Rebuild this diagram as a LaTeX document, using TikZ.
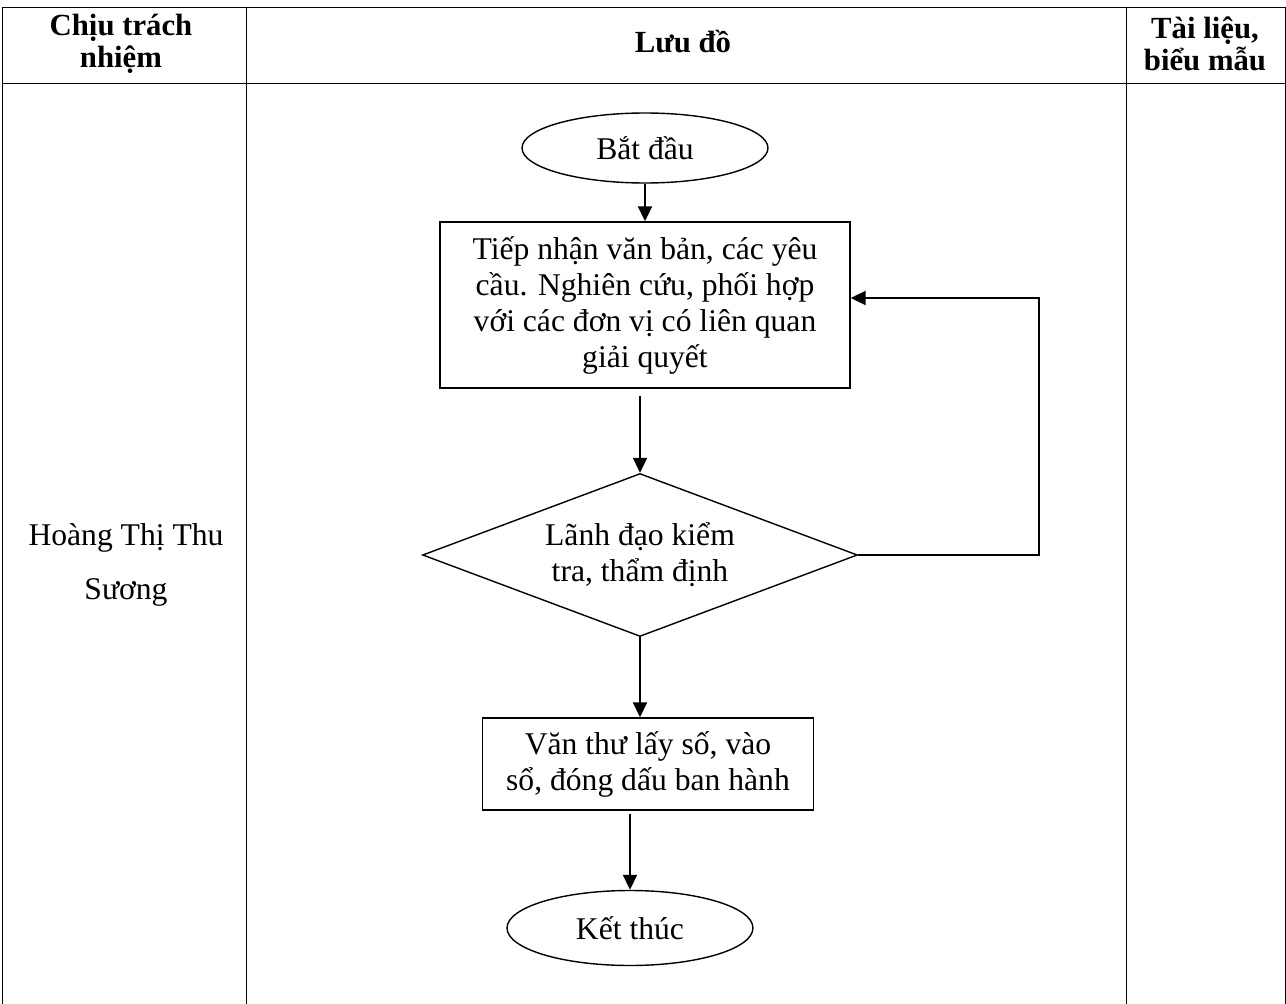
\documentclass[tikz,border=0pt]{standalone}
\usepackage{fontspec}
\setmainfont{Liberation Serif}
\usetikzlibrary{shapes.geometric,arrows.meta}
\tikzset{
    TB/.style ={line width=1.1pt},
    EL/.style ={ellipse, minimum width = 4.92cm, minimum height = 1.4cm, draw, line width=0.8pt},
    RB/.style ={rectangle, draw, line width=0.8pt, align=center},
    DI/.style ={diamond, aspect=2.67, inner sep=0pt, minimum width = 8.7cm, minimum height = 3.26cm, draw, line width=0.8pt, align=center},
    AR/.style ={line width=1.1pt, -{Triangle[length=0.3cm, width=0.28cm]}},
    HD/.style ={align=center, font=\bfseries\fontsize{17.5}{18.5}\selectfont},
    TX/.style ={align=center, font=\fontsize{18}{20.5}\selectfont}}
\begin{document}
\begin{tikzpicture}[x=0.02cm,y=-0.02cm]
        \useasboundingbox (0,0) rectangle (1286,1004);
        % khung bang
        {[TB]{
        \draw (2.5,1004)--(2.5,7)--(1285,7)--(1285,1004);
        \draw (2.5,83)--(1285,83);
        \draw (246,7)--(246,1004);
        \draw (1126,7)--(1126,1004);}}
        \node[HD] (h1) at (121,44) {Chịu trách\\nhiệm};
        \node[HD] (h2) at (683,42) {Lưu đồ};
        \node[HD] (h3) at (1205,44) {Tài liệu,\\biểu mẫu};
        \node[align=center, font=\fontsize{18}{30.7}\selectfont] (ngl) at (126,565) {Hoàng Thị Thu\\Sương};
        % luu do
        \node[EL,TX] (bd) at (645,148) {Bắt đầu};
        \node[RB,TX,minimum width=8.2cm,minimum height=3.32cm] (rb1) at (645,305)
            {Tiếp nhận văn bản, các yêu\\cầu. Nghiên cứu, phối hợp\\với các đơn vị có liên quan\\giải quyết};
        \node[DI,TX] (dia) at (640,555) {Lãnh đạo kiểm\\tra, thẩm định};
        \node[RB,TX,minimum width=6.62cm,minimum height=1.84cm] (rb2) at (648,764)
            {Văn thư lấy số, vào\\sổ, đóng dấu ban hành};
        \node[EL,TX,minimum height=1.5cm] (kt) at (630,928) {Kết thúc};
        \coordinate (vong) at (1039,555);
        \draw[AR] (bd.south) -- (rb1.north);
        \draw[AR,shorten <=0.14cm] (rb1.south -| dia.north) -- (dia.north);
        \draw[AR] (dia.east) -- (vong) |- ([yshift=0.14cm]rb1.east);
        \draw[AR] (dia.south) -- (rb2.north -| dia.south);
        \draw[AR,shorten <=0.06cm] (rb2.south -| kt.north) -- (kt.north);
    \end{tikzpicture}
\end{document}
